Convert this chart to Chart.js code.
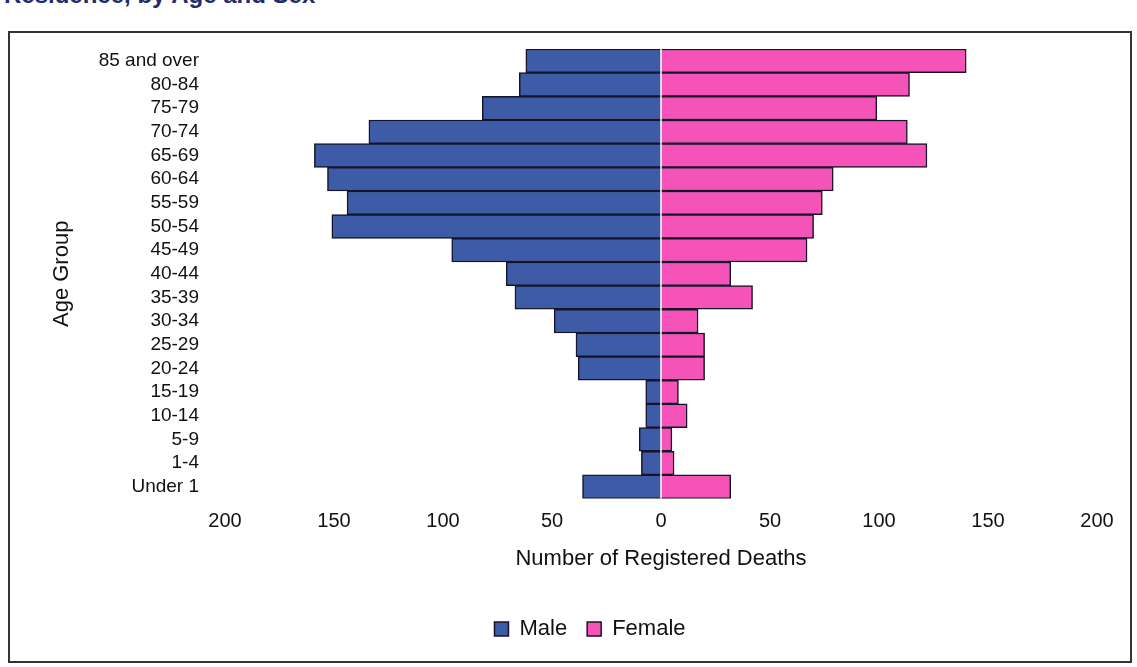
<!DOCTYPE html>
<html>
<head>
<meta charset="utf-8">
<script src="https://cdn.jsdelivr.net/npm/chart.js@4"></script>
<style>
  html, body { margin: 0; padding: 0; background: #fff; }
  body { width: 1137px; height: 667px; position: relative; overflow: hidden; }
  #cut-title {
    position: absolute; left: 4px; top: -19px;
    font: bold 24px "Liberation Sans", Arial, sans-serif; color: #1e2d6b;
    white-space: nowrap;
  }
  #frame {
    position: absolute; left: 8px; top: 31px; width: 1120px; height: 628px;
    border: 2px solid #333;
  }
  #wrap { position: absolute; left: 0; top: 0; width: 1137px; height: 667px; }
</style>
</head>
<body>
<div id="cut-title">Residence, by Age and Sex</div>
<div id="frame"></div>
<div id="wrap"><canvas id="myChart" width="1137" height="667"></canvas></div>
<script>
// Age groups, top of the pyramid first
const ageGroups = ['85 and over', '80-84', '75-79', '70-74', '65-69', '60-64', '55-59',
  '50-54', '45-49', '40-44', '35-39', '30-34', '25-29', '20-24', '15-19', '10-14',
  '5-9', '1-4', 'Under 1'];
const maleDeaths = [62, 65, 82, 134, 159, 153, 144, 151, 96, 71, 67, 49, 39, 38, 7, 7, 10, 9, 36];
const femaleDeaths = [140, 114, 99, 113, 122, 79, 74, 70, 67, 32, 42, 17, 20, 20, 8, 12, 5, 6, 32];
const xTicks = [-200, -150, -100, -50, 0, 50, 100, 150, 200];

const font = '"Liberation Sans", Arial, sans-serif';

// white line down the middle where the two sides meet
const zeroLine = {
  id: 'zeroLine',
  afterDatasetsDraw(chart) {
    const { ctx, chartArea, scales } = chart;
    const x = scales.x.getPixelForValue(0);
    ctx.save();
    ctx.strokeStyle = '#ffffff';
    ctx.lineWidth = 1.5;
    ctx.beginPath();
    ctx.moveTo(x, chartArea.top);
    ctx.lineTo(x, chartArea.bottom);
    ctx.stroke();
    ctx.restore();
  }
};

const ctx = document.getElementById('myChart').getContext('2d');
new Chart(ctx, {
  type: 'bar',
  data: {
    labels: ageGroups,
    datasets: [{
      label: 'Male',
      data: maleDeaths.map(v => -v),
      backgroundColor: '#3d5ba6',
      borderColor: '#15152a',
      borderWidth: 1.5
    }, {
      label: 'Female',
      data: femaleDeaths,
      backgroundColor: '#f553b8',
      borderColor: '#15152a',
      borderWidth: 1.5
    }]
  },
  options: {
    indexAxis: 'y',
    responsive: false,
    animation: false,
    barPercentage: 1,
    categoryPercentage: 1,
    layout: { padding: { left: 83, right: 40, top: 49, bottom: 17 } },
    plugins: {
      legend: {
        position: 'bottom',
        labels: {
          color: '#111',
          font: { family: font, size: 22 },
          boxWidth: 14,
          boxHeight: 14,
          padding: 20
        }
      },
      tooltip: {
        callbacks: {
          label: c => c.dataset.label + ': ' + Math.abs(c.raw)
        }
      }
    },
    scales: {
      x: {
        stacked: true,
        min: -200,
        max: 200,
        afterBuildTicks: scale => { scale.ticks = xTicks.map(v => ({ value: v })); },
        grid: { display: false, drawTicks: false },
        border: { display: false },
        ticks: {
          padding: 13,
          color: '#111',
          font: { family: font, size: 20, lineHeight: 1 },
          callback: v => Math.abs(v)
        },
        title: {
          display: true,
          text: 'Number of Registered Deaths',
          color: '#111',
          font: { family: font, size: 22 },
          padding: { top: 1, bottom: 26 }
        }
      },
      y: {
        stacked: true,
        afterFit: scale => { scale.width = 142; },
        grid: { display: false, drawTicks: false },
        border: { display: false },
        ticks: {
          autoSkip: false,
          padding: 26,
          color: '#111',
          font: { family: font, size: 19 }
        },
        title: {
          display: true,
          text: 'Age Group',
          color: '#111',
          font: { family: font, size: 22 },
          padding: { top: -34, bottom: 0 }
        }
      }
    }
  },
  plugins: [zeroLine]
});
</script>
</body>
</html>
